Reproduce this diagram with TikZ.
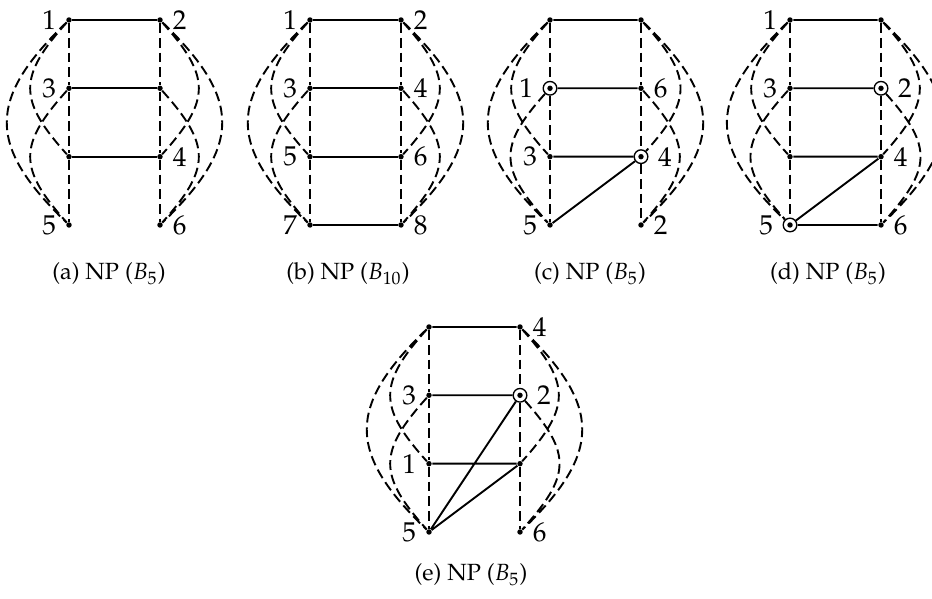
\documentclass[tikz,border=0pt]{standalone}
\usepackage[T1]{fontenc}
\usepackage{mathpazo}
\usetikzlibrary{positioning}

\begin{document}
\begin{tikzpicture}[
	x=0.367pt, y=0.367pt,
	vertex/.style={circle, fill, inner sep=0pt, minimum size=2pt, label distance=1.2pt},
	marked/.style={circle, draw, fill=white, inner sep=0pt, minimum size=5pt, line width=0.5pt, label distance=0pt,
		path picture={\fill[black] (path picture bounding box.center) circle (1pt);}},
	rung/.style={line width=0.7pt},
	link/.style={line width=0.7pt, dash pattern=on 3.6pt off 1.8pt},
	outer left/.style={out=224, in=136, looseness=1.42},
	inner left/.style={out=228, in=132, looseness=1.42},
	outer right/.style={out=-44, in=44, looseness=1.42},
	inner right/.style={out=-48, in=48, looseness=1.42},
	subcap/.style={anchor=base, font=\fontsize{8.6}{10}\selectfont}
	]
	\useasboundingbox (0,0) rectangle (932,599);
	
	% --- (a) ---
	\begin{scope}[shift={(69,579)}]
		\node[vertex, label=left:1] (aL1) at (0,0) {};
		\node[vertex, label=right:2] (aR1) at (91,0) {};
		\node[vertex, label=left:3] (aL2) at (0,-68.3) {};
		\node[vertex] (aR2) at (91,-68.3) {};
		\node[vertex] (aL3) at (0,-136.7) {};
		\node[vertex, label=right:4] (aR3) at (91,-136.7) {};
		\node[vertex, label=left:5] (aL4) at (0,-205) {};
		\node[vertex, label=right:6] (aR4) at (91,-205) {};
		
		\draw[rung] (aL1) -- (aR1) (aL2) -- (aR2) (aL3) -- (aR3);
		\draw[link] (aL1) -- (aL2) -- (aL3) -- (aL4) (aR1) -- (aR2) -- (aR3) -- (aR4);
		\draw[link] (aL1) to[outer left] (aL4) (aL1) to[inner left] (aL3) (aL2) to[inner left] (aL4);
		\draw[link] (aR1) to[outer right] (aR4) (aR1) to[inner right] (aR3) (aR2) to[inner right] (aR4);
	\end{scope}
	\node[subcap] (capA) at (109,319) {(a) NP ($B_5$)};
	
	% --- (b) ---
	\begin{scope}[shift={(310,579)}]
		\node[vertex, label=left:1] (bL1) at (0,0) {};
		\node[vertex, label=right:2] (bR1) at (91,0) {};
		\node[vertex, label=left:3] (bL2) at (0,-68.3) {};
		\node[vertex, label=right:4] (bR2) at (91,-68.3) {};
		\node[vertex, label=left:5] (bL3) at (0,-136.7) {};
		\node[vertex, label=right:6] (bR3) at (91,-136.7) {};
		\node[vertex, label=left:7] (bL4) at (0,-205) {};
		\node[vertex, label=right:8] (bR4) at (91,-205) {};
		
		\draw[rung] (bL1) -- (bR1) (bL2) -- (bR2) (bL3) -- (bR3) (bL4) -- (bR4);
		\draw[link] (bL1) -- (bL2) -- (bL3) -- (bL4) (bR1) -- (bR2) -- (bR3) -- (bR4);
		\draw[link] (bL1) to[outer left] (bL4) (bL1) to[inner left] (bL3) (bL2) to[inner left] (bL4);
		\draw[link] (bR1) to[outer right] (bR4) (bR1) to[inner right] (bR3) (bR2) to[inner right] (bR4);
	\end{scope}
	\node[subcap] (capB) at (348,319) {(b) NP ($B_{10}$)};
	
	% --- (c) ---
	\begin{scope}[shift={(550,579)}]
		\node[vertex] (cL1) at (0,0) {};
		\node[vertex] (cR1) at (91,0) {};
		\node[marked, label=left:1] (cL2) at (0,-68.3) {};
		\node[vertex, label=right:6] (cR2) at (91,-68.3) {};
		\node[vertex, label=left:3] (cL3) at (0,-136.7) {};
		\node[marked, label=right:4] (cR3) at (91,-136.7) {};
		\node[vertex, label=left:5] (cL4) at (0,-205) {};
		\node[vertex, label=right:2] (cR4) at (91,-205) {};
		
		\draw[rung] (cL1) -- (cR1) (cL2) -- (cR2) (cL3) -- (cR3) (cL4) -- (cR3);
		\draw[link] (cL1) -- (cL2) -- (cL3) -- (cL4) (cR1) -- (cR2) -- (cR3) -- (cR4);
		\draw[link] (cL1) to[outer left] (cL4) (cL1) to[inner left] (cL3) (cL2) to[inner left] (cL4);
		\draw[link] (cR1) to[outer right] (cR4) (cR1) to[inner right] (cR3) (cR2) to[inner right] (cR4);
	\end{scope}
	\node[subcap] (capC) at (590,319) {(c) NP ($B_5$)};
	
	% --- (d) ---
	\begin{scope}[shift={(790,579)}]
		\node[vertex, label=left:1] (dL1) at (0,0) {};
		\node[vertex] (dR1) at (91,0) {};
		\node[vertex, label=left:3] (dL2) at (0,-68.3) {};
		\node[marked, label=right:2] (dR2) at (91,-68.3) {};
		\node[vertex] (dL3) at (0,-136.7) {};
		\node[vertex, label=right:4] (dR3) at (91,-136.7) {};
		\node[marked, label=left:5] (dL4) at (0,-205) {};
		\node[vertex, label=right:6] (dR4) at (91,-205) {};
		
		\draw[rung] (dL1) -- (dR1) (dL2) -- (dR2) (dL3) -- (dR3) (dL4) -- (dR4) (dL4) -- (dR3);
		\draw[link] (dL1) -- (dL2) -- (dL3) -- (dL4) (dR1) -- (dR2) -- (dR3) -- (dR4);
		\draw[link] (dL1) to[outer left] (dL4) (dL1) to[inner left] (dL3) (dL2) to[inner left] (dL4);
		\draw[link] (dR1) to[outer right] (dR4) (dR1) to[inner right] (dR3) (dR2) to[inner right] (dR4);
	\end{scope}
	\node[subcap] (capD) at (828,319) {(d) NP ($B_5$)};
	
	% --- (e) ---
	\begin{scope}[shift={(429,272)}]
		\node[vertex] (eL1) at (0,0) {};
		\node[vertex, label=right:4] (eR1) at (91,0) {};
		\node[vertex, label=left:3] (eL2) at (0,-68.3) {};
		\node[marked, label=right:2] (eR2) at (91,-68.3) {};
		\node[vertex, label=left:1] (eL3) at (0,-136.7) {};
		\node[vertex] (eR3) at (91,-136.7) {};
		\node[vertex, label=left:5] (eL4) at (0,-205) {};
		\node[vertex, label=right:6] (eR4) at (91,-205) {};
		
		\draw[rung] (eL1) -- (eR1) (eL2) -- (eR2) (eL3) -- (eR3) (eL4) -- (eR2) (eL4) -- (eR3);
		\draw[link] (eL1) -- (eL2) -- (eL3) -- (eL4) (eR1) -- (eR2) -- (eR3) -- (eR4);
		\draw[link] (eL1) to[outer left] (eL4) (eL1) to[inner left] (eL3) (eL2) to[inner left] (eL4);
		\draw[link] (eR1) to[outer right] (eR4) (eR1) to[inner right] (eR3) (eR2) to[inner right] (eR4);
	\end{scope}
	\node[subcap] (capE) at (471,18) {(e) NP ($B_5$)};
	
\end{tikzpicture}
\end{document}
